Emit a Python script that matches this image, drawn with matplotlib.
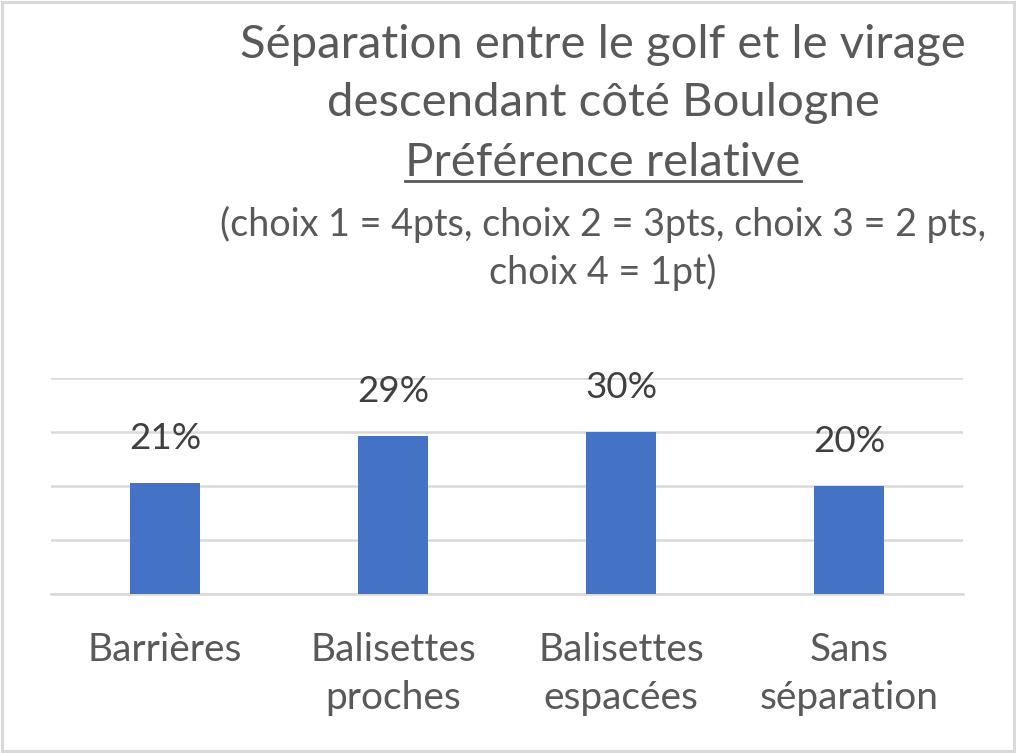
import matplotlib
matplotlib.use("Agg")
import matplotlib.pyplot as plt
from matplotlib.lines import Line2D
from matplotlib.patches import Rectangle

categories = ["Barrières", "Balisettes\nproches", "Balisettes\nespacées", "Sans\nséparation"]
values = [0.206, 0.293, 0.300, 0.200]

title_lines = ["Séparation entre le golf et le virage", "descendant côté Boulogne"]
subtitle = "Préférence relative"
note_lines = ["(choix 1 = 4pts, choix 2 = 3pts, choix 3 = 2 pts,", "choix 4 = 1pt)"]

grey = "#595959"
dark = "#404040"
bar_color = "#4472C4"
grid_color = "#D9D9D9"

plt.rcParams["font.family"] = ["Lato", "DejaVu Sans"]

fig = plt.figure(figsize=(10.16, 7.53), dpi=100)
fig.patches.append(Rectangle((0.0015, 0.002), 0.997, 0.996, transform=fig.transFigure,
                             fill=False, edgecolor="#D9D9D9", linewidth=2.2))

ax = fig.add_axes([51 / 1016, 0.211, 912 / 1016, 0.287])
x = range(len(categories))
bars = ax.bar(x, values, width=0.31, color=bar_color, zorder=3)
ax.set_xlim(-0.5, len(categories) - 0.5)
ax.set_ylim(0, 0.4)
ax.set_yticks([0.0, 0.1, 0.2, 0.3, 0.4])
ax.yaxis.grid(True, color=grid_color, linewidth=1.8)
ax.tick_params(axis="y", left=False, labelleft=False)
ax.tick_params(axis="x", bottom=False, labelsize=28, labelcolor=grey, pad=24)
ax.set_xticks(list(x))
ax.set_xticklabels(categories, linespacing=1.42)
for s in ["top", "right", "left"]:
    ax.spines[s].set_visible(False)
ax.spines["bottom"].set_color(grid_color)
ax.spines["bottom"].set_linewidth(1.8)

for b, v in zip(bars, values):
    ax.annotate(f"{v:.0%}", (b.get_x() + b.get_width() / 2, v), xytext=(0, 32),
                textcoords="offset points", ha="center", va="center",
                fontsize=26.5, color=dark)

cx = 603 / 1016
fig.text(cx, 1 - 45 / 753, title_lines[0], ha="center", va="center", fontsize=34, color=grey)
fig.text(cx, 1 - 103 / 753, title_lines[1], ha="center", va="center", fontsize=34, color=grey)
sub = fig.text(cx, 1 - 163 / 753, subtitle, ha="center", va="center", fontsize=34, color=grey)
fig.text(cx, 1 - 224 / 753, note_lines[0], ha="center", va="center", fontsize=27.2, color=grey)
fig.text(cx, 1 - 272 / 753, note_lines[1], ha="center", va="center", fontsize=27.2, color=grey)

# underline the subtitle
fig.canvas.draw()
bb = sub.get_window_extent().transformed(fig.transFigure.inverted())
fig.lines.append(Line2D([bb.x0, bb.x1], [bb.y0 + 0.004, bb.y0 + 0.004], transform=fig.transFigure,
                        color=grey, linewidth=2))

fig.savefig("out.png", dpi=100)
